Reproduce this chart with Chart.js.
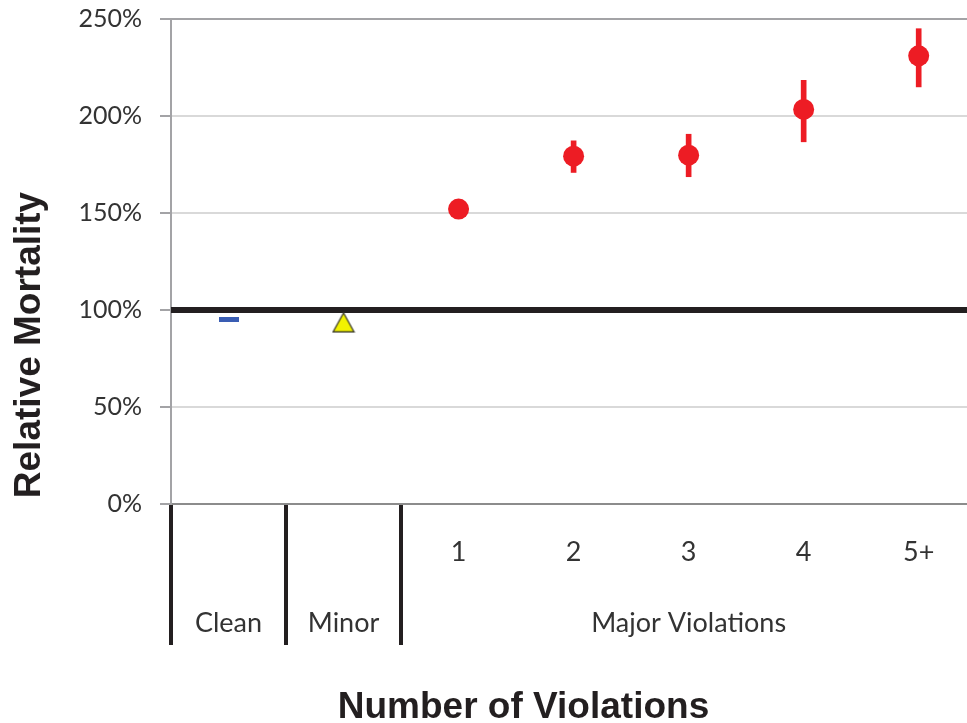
<!DOCTYPE html>
<html>
<head>
<meta charset="utf-8">
<script src="https://cdn.jsdelivr.net/npm/chart.js@4"></script>
<style>
  html, body { margin: 0; padding: 0; background: #ffffff; }
  #c { display: block; }
</style>
</head>
<body>
<canvas id="c" width="967" height="723"></canvas>
<script>
// Category axis: two single categories followed by the major-violation counts
const categories = ['Clean', 'Minor', '1', '2', '3', '4', '5+'];
const majorGroupLabel = 'Major Violations';
const majorStart = 2;                 // index of the first major-violation category
const groupDividers = [-0.5, 0.5, 1.5];

// Relative mortality (%)
const cleanMortality = [95.0];
const minorMortality = [93.6];
const majorMortality = [152.0, 179.3, 179.8, 203.4, 231.0];
const majorLower     = [148.0, 170.9, 168.7, 186.7, 215.0];
const majorUpper     = [156.0, 187.2, 190.6, 218.4, 245.0];
const baselineLevel  = 100;
const yTickValues    = [0, 50, 100, 150, 200, 250];

const INK = '#231f20';
const RED = '#ed1c24';
const TICK_FONT = 'Lato';

function makeMarker(w, h, paint) {
  const c = document.createElement('canvas');
  c.width = w; c.height = h;
  paint(c.getContext('2d'), w, h);
  return c;
}
const dashMarker = makeMarker(20, 5, (g, w, h) => {
  g.fillStyle = '#3a5db3';
  g.fillRect(0, 0, w, h);
});
const triangleMarker = makeMarker(24, 22, (g) => {
  g.beginPath();
  g.moveTo(12, 1.5);
  g.lineTo(22.5, 20.5);
  g.lineTo(1.5, 20.5);
  g.closePath();
  g.fillStyle = '#f2f200';
  g.fill();
  g.lineWidth = 1.3;
  g.strokeStyle = '#3a3a2a';
  g.stroke();
});

const majorX = majorMortality.map((_, i) => majorStart + i);
const groupCenter = (majorStart + categories.length - 1) / 2;

function tickLabel(value) {
  if (!Number.isInteger(value)) return '';
  const i = value;
  const top = i >= majorStart ? categories[i] : '';
  let bottom = '';
  if (i < majorStart) bottom = categories[i];
  else if (i === groupCenter) bottom = majorGroupLabel;
  return [top, bottom];
}

// Axis captions placed off the plot center
const axisCaptions = {
  id: 'axisCaptions',
  afterDraw(chart) {
    const g = chart.ctx;
    g.save();
    g.fillStyle = INK;
    g.font = 'bold 37px "Liberation Sans", Arial, sans-serif';
    g.textAlign = 'center';
    g.textBaseline = 'alphabetic';
    g.fillText('Number of Violations', 523.5, 717.5);
    g.translate(40, 345);
    g.rotate(-Math.PI / 2);
    g.fillText('Relative Mortality', 0, 0);
    g.restore();
  }
};

new Chart(document.getElementById('c'), {
  type: 'scatter',
  data: {
    datasets: [
      {
        type: 'scatter',
        label: 'Major',
        data: majorX.map((x, i) => ({ x, y: majorMortality[i] })),
        pointStyle: 'circle',
        pointRadius: 10.5,
        pointBackgroundColor: RED,
        pointBorderWidth: 0,
        order: 0
      },
      {
        type: 'scatter',
        label: 'Minor',
        data: [{ x: 1, y: minorMortality[0] }],
        pointStyle: triangleMarker,
        order: 0
      },
      {
        type: 'scatter',
        label: 'Clean',
        data: [{ x: 0, y: cleanMortality[0] }],
        pointStyle: dashMarker,
        order: 0
      },
      {
        type: 'bar',
        label: 'Range',
        data: majorX.map((x, i) => ({ x, y: [majorLower[i], majorUpper[i]] })),
        backgroundColor: RED,
        borderWidth: 0,
        barThickness: 5,
        order: 1
      },
      {
        type: 'line',
        label: 'Reference',
        data: [{ x: -0.5, y: baselineLevel }, { x: categories.length - 0.5, y: baselineLevel }],
        borderColor: INK,
        borderWidth: 6,
        pointRadius: 0,
        order: 2
      }
    ]
  },
  options: {
    responsive: false,
    animation: false,
    events: [],
    devicePixelRatio: 1,
    layout: { autoPadding: false, padding: { top: 19, right: 0, bottom: 0, left: 0 } },
    plugins: { legend: { display: false }, tooltip: { enabled: false } },
    scales: {
      x: {
        type: 'linear',
        position: 'bottom',
        offset: false,
        min: -0.5,
        max: 6.42,
        afterBuildTicks(scale) {
          const vals = groupDividers.concat(categories.map((_, i) => i));
          scale.ticks = vals.sort((a, b) => a - b).map(v => ({ value: v }));
        },
        afterFit(scale) {
          scale.height = 219;
          scale.paddingLeft = 0;
          scale.paddingRight = 0;
        },
        ticks: {
          autoSkip: false,
          maxRotation: 0,
          minRotation: 0,
          padding: -127.6,
          color: '#333333',
          font: { family: TICK_FONT, size: 27, lineHeight: 2.607 },
          callback: (v) => tickLabel(v)
        },
        grid: {
          display: true,
          offset: false,
          drawOnChartArea: false,
          drawTicks: true,
          tickLength: 141,
          color: (ctx) => (ctx.tick && groupDividers.includes(ctx.tick.value)) ? INK : 'rgba(0,0,0,0)',
          lineWidth: (ctx) => (ctx.tick && groupDividers.includes(ctx.tick.value)) ? 4 : 0
        },
        border: { display: true, color: '#8c8c8c', width: 2 }
      },
      y: {
        min: 0,
        max: 250,
        afterBuildTicks(scale) { scale.ticks = yTickValues.map(v => ({ value: v })); },
        afterFit(scale) {
          scale.width = 171;
          scale.paddingTop = 0;
          scale.paddingBottom = 0;
        },
        ticks: {
          padding: 18,
          color: '#333333',
          font: { family: TICK_FONT, size: 25 },
          callback: (v) => v + '%'
        },
        grid: {
          drawTicks: true,
          tickLength: 11,
          lineWidth: 2,
          color: (ctx) => {
            const v = ctx.tick ? ctx.tick.value : null;
            if (v === 250) return '#a3a3a6';
            if (v === 0) return '#8c8c8c';
            return '#d9d9d9';
          },
          tickColor: '#a3a3a6'
        },
        border: { display: true, color: '#a3a3a6', width: 2 }
      }
    }
  },
  plugins: [axisCaptions]
});
</script>
</body>
</html>
